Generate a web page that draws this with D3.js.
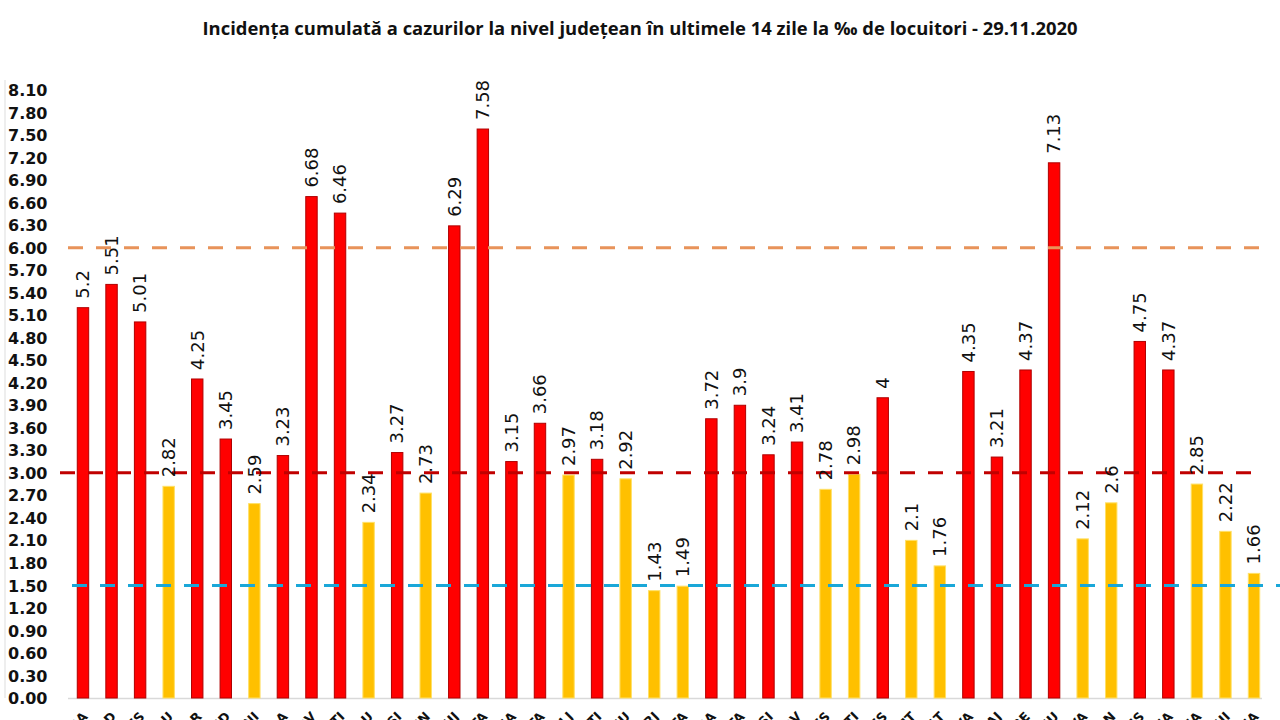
<!DOCTYPE html>
<html>
<head>
<meta charset="utf-8">
<script src="https://cdn.jsdelivr.net/npm/d3@7"></script>
<style>
  body { margin: 0; background: #fff; }
  svg { display: block; }
</style>
</head>
<body>
<svg id="chart" width="1280" height="720"></svg>
<script>
const judete = ["ALBA","ARAD","ARGES","BACAU","BIHOR","BISTRITA NASAUD","BOTOSANI","BRAILA","BRASOV","BUCURESTI",
  "BUZAU","CALARASI","CARAS SEVERIN","CLUJ","CONSTANTA","COVASNA","DAMBOVITA","DOLJ","GALATI","GIURGIU",
  "GORJ","HARGHITA","HUNEDOARA","IALOMITA","IASI","ILFOV","MARAMURES","MEHEDINTI","MURES","NEAMT",
  "OLT","PRAHOVA","SALAJ","SATU MARE","SIBIU","SUCEAVA","TELEORMAN","TIMIS","TULCEA","VALCEA",
  "VASLUI","VRANCEA"]
const incidenta = [5.2,5.51,5.01,2.82,4.25,3.45,2.59,3.23,6.68,6.46,
  2.34,3.27,2.73,6.29,7.58,3.15,3.66,2.97,3.18,2.92,
  1.43,1.49,3.72,3.9,3.24,3.41,2.78,2.98,4,2.1,
  1.76,4.35,3.21,4.37,7.13,2.12,2.6,4.75,4.37,2.85,
  2.22,1.66]
const yTicks = d3.range(0, 28).map(i => +(i*0.3).toFixed(2))
const praguri = [6.0, 3.0, 1.5]

const svg = d3.select("#chart")

const x = d3.scaleBand().domain(judete).range([68.7, 1268.3]).paddingInner(0.6).paddingOuter(0.3)
const y = d3.scaleLinear().domain([0, 8.1]).range([698, 90])

// titlu
svg.append("text")
  .attr("x", 640).attr("y", 35)
  .attr("text-anchor", "middle")
  .attr("textLength", 875).attr("lengthAdjust", "spacingAndGlyphs")
  .style("font-family", "'Liberation Sans Narrow', 'Open Sans', sans-serif")
  .style("font-weight", "bold").style("font-size", "17px").attr("fill", "#111")
  .text("Incidența cumulată a cazurilor la nivel județean în ultimele 14 zile la ‰ de locuitori - 29.11.2020")

// axa y
const yAxis = d3.axisLeft(y).tickValues(yTicks).tickFormat(d3.format(".2f")).tickSize(0)
const gy = svg.append("g").attr("transform", "translate(5,0)").call(yAxis)
gy.select(".domain").attr("stroke", "#ddd").attr("d", "M0,80V698")
gy.selectAll("text")
  .attr("x", 3).attr("text-anchor", "start").attr("dy", "0.35em")
  .style("font-family", "'DejaVu Sans', sans-serif").style("font-weight", "bold")
  .style("font-size", "16px").attr("fill", "#111")

// linia de baza
svg.append("line")
  .attr("x1", 68).attr("x2", 1262).attr("y1", y(0)+0.5).attr("y2", y(0)+0.5)
  .attr("stroke", "#d9d9d9").attr("stroke-width", 1.5)

// axa x
const gx = svg.append("g").attr("transform", `translate(0,${y(0)})`)
  .call(d3.axisBottom(x).tickSize(0))
gx.select(".domain").remove()
gx.selectAll("text")
  .attr("text-anchor", "end").attr("dy", "0.35em")
  .attr("transform", "translate(0,14) rotate(-45)")
  .style("font-family", "'DejaVu Sans', sans-serif").style("font-weight", "bold")
  .style("font-size", "13px").attr("fill", "#111")

// bare
svg.append("g").selectAll("rect").data(incidenta).join("rect")
  .attr("x", (d, i) => x(judete[i]))
  .attr("y", d => y(d))
  .attr("width", x.bandwidth())
  .attr("height", d => y(0) - y(d))
  .attr("fill", d => d >= 3 ? "#ff0000" : "#ffc000")
  .attr("stroke", d => d >= 3 ? "#b00000" : "#ffe066")
  .attr("stroke-width", 1)

// praguri
const culoriPrag = {6: "#e8935a", 3: "#c00000", 1.5: "#1aa7d8"}
const capetePrag = {6: [68, 1265], 3: [60, 1254], 1.5: [72, 1280]}
svg.append("g").selectAll("line").data(praguri).join("line")
  .attr("x1", d => capetePrag[d][0]).attr("x2", d => capetePrag[d][1])
  .attr("y1", d => y(d)).attr("y2", d => y(d))
  .attr("stroke", d => culoriPrag[d]).attr("stroke-width", 3)
  .attr("stroke-dasharray", "15,13")

// etichete valori
svg.append("g").selectAll("text").data(incidenta).join("text")
  .attr("transform", (d, i) => `translate(${x(judete[i]) + x.bandwidth()/2},${y(d) - 9}) rotate(-90)`)
  .attr("dy", "0.35em")
  .style("font-family", "'DejaVu Sans', sans-serif").style("font-size", "18px").attr("fill", "#111")
  .text(d => String(d))
</script>
</body>
</html>
